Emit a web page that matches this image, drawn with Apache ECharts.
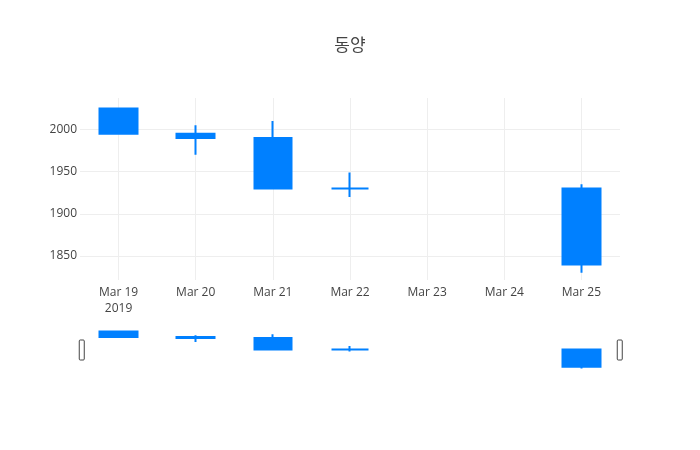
<!DOCTYPE html>
<html>
<head>
<meta charset="utf-8">
<script src="https://cdn.jsdelivr.net/npm/echarts@6/dist/echarts.min.js"></script>
<style>
  html,body{margin:0;padding:0;background:#fff}
  #chart{width:700px;height:450px}
</style>
</head>
<body>
<div id="chart"></div>
<script>
// 동양 daily candles, Mar 19 - Mar 25 2019 (weekend has no trades)
var days = ['Mar 19\n2019', 'Mar 20', 'Mar 21', 'Mar 22', 'Mar 23', 'Mar 24', 'Mar 25']
var tradeDay = [0, 1, 2, 3, 6]   // index into days
var opens  = [2025, 1995, 1990, 1930, 1930]
var closes = [1995, 1990, 1930, 1930, 1840]
var lows   = [1995, 1970, 1930, 1920, 1830]
var highs  = [2025, 2005, 2010, 1949, 1935]
var yTicks = [1850, 1900, 1950, 2000]

var blue = '#0080ff'
var font = '"Open Sans", "Noto Sans CJK KR", sans-serif'

var rows = []
for (var i = 0; i < tradeDay.length; i++) {
    rows.push([tradeDay[i], opens[i], closes[i], lows[i], highs[i]])
}
var dayIdx = []
for (var i = 0; i < days.length; i++) dayIdx.push(i)

var candleStyle = {
    color: blue, color0: blue,
    borderColor: blue, borderColor0: blue,
    borderWidth: 2
}

var chart = echarts.init(document.getElementById('chart'))
option = {
    backgroundColor: '#fff',
    animation: false,
    title: {
        text: '동양',
        left: 'center',
        top: 33,
        textStyle: {color: '#444', fontSize: 17, fontWeight: 'normal', fontFamily: font}
    },
    grid: [
        {left: 80, right: 80, top: 98, height: 182},
        {left: 80, right: 80, top: 331, height: 38}
    ],
    xAxis: [
        {
            type: 'value', gridIndex: 0, min: -0.5, max: 6.5,
            axisLine: {show: false},
            axisTick: {show: false, customValues: dayIdx},
            axisLabel: {
                customValues: dayIdx,
                formatter: function (v) { return days[v] },
                color: '#444', fontSize: 12, fontFamily: font, lineHeight: 16, margin: 5
            },
            splitLine: {show: true, lineStyle: {color: '#eee', width: 1}}
        },
        {
            type: 'value', gridIndex: 1, min: -0.5, max: 6.5, show: false
        }
    ],
    yAxis: [
        {
            type: 'value', gridIndex: 0, min: 1821.5, max: 2037.4, scale: true,
            axisLine: {show: false},
            axisTick: {show: false, customValues: yTicks},
            axisLabel: {
                customValues: yTicks,
                formatter: function (v) { return String(v) },
                color: '#444', fontSize: 12, fontFamily: font, margin: 3
            },
            splitLine: {show: true, lineStyle: {color: '#eee', width: 1}}
        },
        {
            type: 'value', gridIndex: 1, min: 1828, max: 2027, scale: true, show: false
        }
    ],
    dataZoom: [{
        type: 'slider',
        xAxisIndex: 0,
        left: 80, right: 80, top: 340, height: 20,
        start: 0, end: 100,
        showDetail: false,
        showDataShadow: false,
        brushSelect: false,
        moveHandleSize: 0,
        backgroundColor: 'transparent',
        borderColor: 'transparent',
        fillerColor: 'rgba(0,0,0,0)',
        handleIcon: 'path://M1,0 h3 a1,1 0 0 1 1,1 v18 a1,1 0 0 1 -1,1 h-3 a1,1 0 0 1 -1,-1 v-18 a1,1 0 0 1 1,-1 z',
        handleSize: '100%',
        handleStyle: {color: '#fff', borderColor: '#444', borderWidth: 1},
        emphasis: {handleStyle: {color: '#fff', borderColor: '#444', borderWidth: 1}},
        dataBackground: {lineStyle: {opacity: 0}, areaStyle: {opacity: 0}}
    }],
    series: [
        {
            type: 'candlestick', xAxisIndex: 0, yAxisIndex: 0,
            data: rows,
            encode: {x: 0, y: [1, 2, 3, 4]},
            barWidth: 38,
            itemStyle: candleStyle
        },
        {
            type: 'candlestick', xAxisIndex: 1, yAxisIndex: 1,
            data: rows,
            encode: {x: 0, y: [1, 2, 3, 4]},
            barWidth: 38,
            itemStyle: candleStyle
        }
    ]
};
option && chart.setOption(option);
</script>
</body>
</html>
